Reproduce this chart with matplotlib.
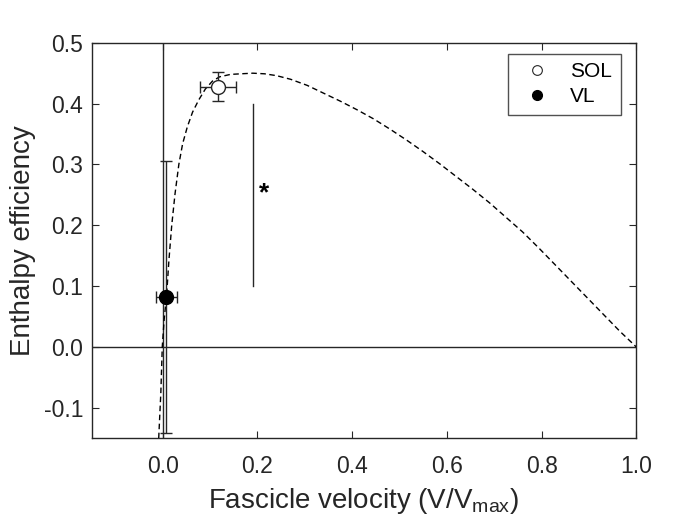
import numpy as np
import matplotlib
matplotlib.use("Agg")
from matplotlib import pyplot as plt

plt.rcParams['font.family'] = ['Liberation Sans', 'DejaVu Sans']

# efficiency curve
curve_x = [-0.0085, -0.004, -0.001, 0.003, 0.008, 0.013, 0.019, 0.026, 0.034, 0.042,
           0.052, 0.063, 0.076, 0.090, 0.105, 0.120, 0.143, 0.165, 0.190, 0.215,
           0.240, 0.270, 0.305, 0.340, 0.375, 0.410, 0.445, 0.480, 0.515, 0.550,
           0.585, 0.620, 0.655, 0.690, 0.725, 0.760, 0.795, 0.830, 0.865, 0.900,
           0.935, 0.965, 1.000]
curve_y = [-0.150, -0.075, 0.000, 0.045, 0.083, 0.142, 0.200, 0.252, 0.300, 0.334,
           0.362, 0.386, 0.406, 0.424, 0.437, 0.444, 0.448, 0.449, 0.450, 0.449,
           0.446, 0.440, 0.430, 0.417, 0.404, 0.390, 0.375, 0.358, 0.340, 0.321,
           0.301, 0.280, 0.259, 0.237, 0.213, 0.189, 0.162, 0.134, 0.106, 0.078,
           0.050, 0.026, 0.000]

# muscles
labels = ['SOL', 'VL']
vel = [0.117, 0.0075]
vel_err = [0.0375, 0.0225]
eff = [0.428, 0.082]
eff_err = [0.024, 0.224]

# significance bar
sig_x = 0.19
sig_y = [0.10, 0.40]

fig = plt.figure(figsize=(7, 5.28), dpi=100)
ax = fig.add_axes([0.131, 0.170, 0.778, 0.749])

gray = '#262626'
ax.axvline(0, color=gray, lw=1.0)
ax.axhline(0, color=gray, lw=1.0)

ax.plot(curve_x, curve_y, '--', color='black', lw=1.0, dashes=(4, 2.5))

ax.plot([sig_x, sig_x], sig_y, color=gray, lw=1.0)
ax.text(sig_x + 0.023, 0.252, '*', fontsize=19, fontweight='bold', ha='center', va='center')

ax.errorbar(vel[0], eff[0], xerr=vel_err[0], yerr=eff_err[0], fmt='o', ms=10,
            mfc='white', mec=gray, mew=1.0, ecolor=gray, elinewidth=1.0, capsize=4,
            capthick=1.0, zorder=5)
ax.errorbar(vel[1], eff[1], xerr=vel_err[1], yerr=eff_err[1], fmt='o', ms=10,
            mfc='black', mec='black', ecolor=gray, elinewidth=1.0, capsize=4,
            capthick=1.0, zorder=5)

# legend with plain markers (no error bars)
h1, = ax.plot([], [], 'o', ms=7, mfc='white', mec=gray, mew=0.8)
h2, = ax.plot([], [], 'o', ms=7, mfc='black', mec='black')
leg = ax.legend([h1, h2], labels, loc='upper right', bbox_to_anchor=(0.971, 0.972),
                fontsize=15, frameon=True, fancybox=False, edgecolor=gray,
                handlelength=2.0, handletextpad=0.6, borderpad=0.4, labelspacing=0.3,
                borderaxespad=0)
leg.get_frame().set_linewidth(1.0)

ax.set_xlim(-0.15, 1.0)
ax.set_ylim(-0.15, 0.5)
ax.set_xticks(np.arange(0, 1.01, 0.2))
ax.set_yticks(np.arange(-0.1, 0.51, 0.1))
ax.set_xticklabels(['%.1f' % v for v in np.arange(0, 1.01, 0.2)])
ax.set_yticklabels(['%.1f' % v for v in np.arange(-0.1, 0.51, 0.1)])
ax.tick_params(direction='in', top=True, right=True, length=5, width=0.8,
               labelsize=16.5, colors=gray)
ax.tick_params(axis='x', pad=12)
ax.tick_params(axis='y', pad=6)
for s in ax.spines.values():
    s.set_color(gray)
    s.set_linewidth(1.0)

ax.set_xlabel(r'Fascicle velocity (V/V$_{\mathregular{max}}$)', fontsize=20, color=gray, labelpad=6)
ax.set_ylabel('Enthalpy efficiency', fontsize=20, color=gray, labelpad=6)

fig.savefig('out.png', dpi=100)
